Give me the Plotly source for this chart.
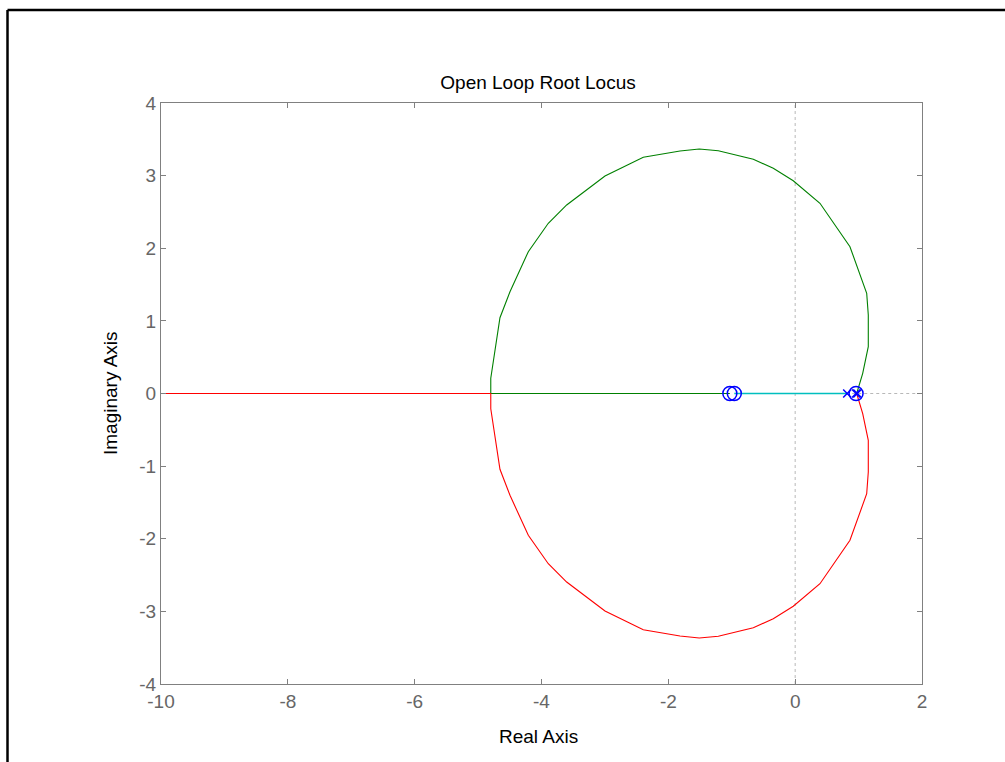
import plotly.graph_objects as go

# Upper (green) loop, from breakaway point to the pole
upper_x = [-4.80, -4.80, -4.655, -4.497, -4.208, -3.893, -3.603, -2.999, -2.395,
           -1.816, -1.512, -1.212, -0.660, -0.345, -0.030, 0.391, 0.864, 1.128,
           1.153, 1.153, 1.065, 0.970]
upper_y = [0.0, 0.21, 1.044, 1.402, 1.953, 2.344, 2.596, 2.995, 3.252,
           3.339, 3.367, 3.343, 3.225, 3.101, 2.930, 2.619, 2.021, 1.380,
           1.081, 0.644, 0.278, 0.0]
# Lower (red) loop
lower_x = [-4.80, -4.80, -4.655, -4.497, -4.208, -3.893, -3.603, -2.999, -2.395,
           -1.816, -1.512, -1.212, -0.660, -0.345, -0.030, 0.391, 0.864, 1.128,
           1.153, 1.153, 1.065, 0.970]
lower_y = [0.0, -0.21, -1.044, -1.402, -1.953, -2.344, -2.596, -2.995, -3.252,
           -3.339, -3.367, -3.343, -3.225, -3.101, -2.930, -2.619, -2.021, -1.380,
           -1.081, -0.644, -0.278, 0.0]
# Real-axis segments
red_axis_x = [-4.80, -10.0]
green_axis_x = [-4.80, -1.03]
cyan_axis_x = [0.82, -0.96]

zeros_x = [-1.03, -0.96, 0.96]
poles_x = [0.82, 0.96, 0.98]

x_ticks = [-10, -8, -6, -4, -2, 0, 2]
y_ticks = [-4, -3, -2, -1, 0, 1, 2, 3, 4]

FONT = "Liberation Sans, Arial, sans-serif"
GRAY = "#808080"
FS = 19

fig = go.Figure()

# dotted reference lines through origin
fig.add_trace(go.Scatter(x=[0.9, 2], y=[0, 0], mode="lines",
                         line=dict(color="#b8b8b8", width=1, dash="dot"),
                         showlegend=False, hoverinfo="skip"))
fig.add_trace(go.Scatter(x=[0, 0], y=[-4, 4], mode="lines",
                         line=dict(color="#b8b8b8", width=1, dash="dot"),
                         showlegend=False, hoverinfo="skip"))

# green branch: pole -> upper loop -> real axis -> zero
gx = list(reversed(upper_x)) + green_axis_x[1:]
gy = list(reversed(upper_y)) + [0.0] * (len(green_axis_x) - 1)
fig.add_trace(go.Scatter(x=gx, y=gy, mode="lines",
                         line=dict(color="#008000", width=1.1), showlegend=False))
# red branch: pole -> lower loop -> real axis -> -inf
rx = list(reversed(lower_x)) + red_axis_x[1:]
ry = list(reversed(lower_y)) + [0.0] * (len(red_axis_x) - 1)
fig.add_trace(go.Scatter(x=rx, y=ry, mode="lines",
                         line=dict(color="#ff0000", width=1.1), showlegend=False))
# cyan branch
fig.add_trace(go.Scatter(x=cyan_axis_x, y=[0.0] * len(cyan_axis_x), mode="lines",
                         line=dict(color="#00bfbf", width=1.3), showlegend=False))

# zeros and poles
fig.add_trace(go.Scatter(x=zeros_x, y=[0.0] * len(zeros_x), mode="markers",
                         marker=dict(symbol="circle-open", size=14, color="#0000ff",
                                     line=dict(color="#0000ff", width=1.5)),
                         showlegend=False))
fig.add_trace(go.Scatter(x=poles_x, y=[0.0] * len(poles_x), mode="markers",
                         marker=dict(symbol="x-thin", size=8, color="#0000ff",
                                     line=dict(color="#0000ff", width=1.5)),
                         showlegend=False))

axis_common = dict(showgrid=False, zeroline=False, showline=True, mirror="ticks",
                   linecolor=GRAY, linewidth=1, ticks="inside", ticklen=5,
                   tickcolor=GRAY, tickwidth=1,
                   tickfont=dict(family=FONT, size=FS, color="#666666"))

fig.update_layout(
    width=1005, height=762,
    margin=dict(l=161, r=83, t=103, b=78),
    paper_bgcolor="white", plot_bgcolor="white",
    title=dict(text="Open Loop Root Locus", x=(538) / 1005, xanchor="center",
               y=1 - 82 / 762, yanchor="middle", yref="container",
               font=dict(family=FONT, size=FS, color="black")),
    xaxis=dict(range=[-10, 2], tickvals=x_ticks, ticktext=[str(v) for v in x_ticks],
               **axis_common),
    yaxis=dict(range=[-4, 4], tickvals=y_ticks, ticktext=[str(v) for v in y_ticks],
               **axis_common),
    annotations=[
        dict(text="Real Axis", xref="paper", yref="paper",
             x=(538 - 161) / 761, y=(684 - 736) / 581, showarrow=False,
             xanchor="center", yanchor="middle",
             font=dict(family=FONT, size=FS, color="black")),
        dict(text="Imaginary Axis", xref="paper", yref="paper",
             x=(110 - 161) / 761, y=(684 - 393) / 581, showarrow=False,
             xanchor="center", yanchor="middle", textangle=-90,
             font=dict(family=FONT, size=FS, color="black")),
    ],
    shapes=[
        dict(type="line", xref="paper", yref="paper",
             x0=(7.5 - 161) / 761, x1=(7.5 - 161) / 761,
             y0=(684 - 10) / 581, y1=(684 - 800) / 581,
             line=dict(color="black", width=2.5)),
        dict(type="line", xref="paper", yref="paper",
             x0=(7.5 - 161) / 761, x1=(1100 - 161) / 761,
             y0=(684 - 10) / 581, y1=(684 - 10) / 581,
             line=dict(color="black", width=2.5)),
    ],
)

fig.write_html("out.html")
